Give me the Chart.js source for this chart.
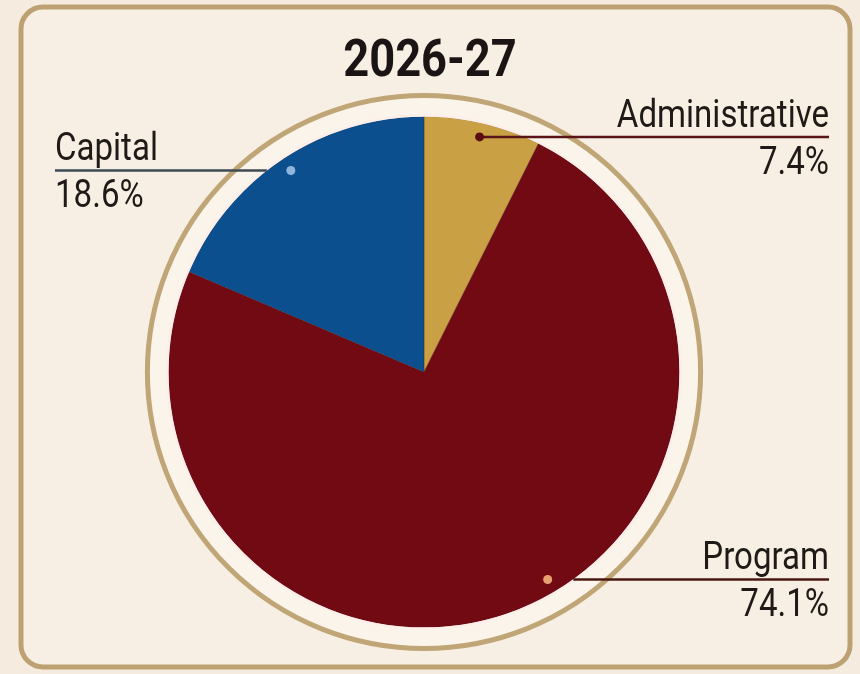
<!DOCTYPE html>
<html>
<head>
<meta charset="utf-8">
<title>2026-27</title>
<script src="https://cdn.jsdelivr.net/npm/chart.js@4.4.1/dist/chart.umd.min.js"></script>
<style>
  html, body { margin: 0; padding: 0; background: #f5ecdf; }
  #wrap { width: 860px; height: 674px; position: relative; }
</style>
</head>
<body>
<div id="wrap"><canvas id="budget-pie" width="860" height="674"></canvas></div>
<script>
// budget split for the year
const chartTitle = '2026-27';
const categories = ['Administrative', 'Program', 'Capital'];
const shares = [7.4, 74.1, 18.6];
const shareLabels = ['7.4%', '74.1%', '18.6%'];
const sliceColors = ['#c9a043', '#720a14', '#0b4f8f'];

// callout styling per slice
const callouts = [
    { side: 'right', along: 0.5,  fromDot: true,  dot: '#5a0c10', line: '#5a1418' },
    { side: 'right', along: 0.46, fromDot: false, dot: '#e9a171', line: '#4a1810' },
    { side: 'left',  along: 0.5,  fromDot: false, dot: '#8fb5da', line: '#3e4a54' }
];

const TEXT = '#1f1a17';
const SQUEEZE = 0.87; // narrow the Roboto glyphs a bit

function squeezedText(ctx, text, x, y, align) {
    ctx.save();
    ctx.translate(x, y);
    ctx.scale(SQUEEZE, 1);
    ctx.textAlign = align;
    ctx.fillText(text, 0, 0);
    ctx.restore();
}

const framePlugin = {
    id: 'frame',
    beforeDraw(chart) {
        const ctx = chart.ctx;
        ctx.save();
        ctx.fillStyle = '#f5ecdf';
        ctx.fillRect(0, 0, chart.width, chart.height);
        ctx.beginPath();
        ctx.roundRect(21, 7, 829, 660, 22);
        ctx.fillStyle = '#f7efe4';
        ctx.fill();
        ctx.lineWidth = 5;
        ctx.strokeStyle = '#bda173';
        ctx.stroke();

        ctx.fillStyle = '#1a1514';
        ctx.font = 'bold 52px Roboto';
        ctx.textBaseline = 'alphabetic';
        squeezedText(ctx, chartTitle, 430, 76, 'center');
        ctx.restore();
    },
    beforeDatasetsDraw(chart) {
        const arc = chart.getDatasetMeta(0).data[0];
        if (!arc) return;
        const ctx = chart.ctx;
        ctx.save();
        ctx.beginPath();
        ctx.arc(arc.x, arc.y, arc.outerRadius + 21, 0, Math.PI * 2);
        ctx.fillStyle = '#fbf4eb';
        ctx.fill();
        ctx.lineWidth = 5;
        ctx.strokeStyle = '#c0a676';
        ctx.stroke();
        ctx.restore();
    }
};

const calloutPlugin = {
    id: 'callouts',
    afterDatasetsDraw(chart) {
        const ctx = chart.ctx;
        const arcs = chart.getDatasetMeta(0).data;
        ctx.save();

        // pale rim round the outside of the pie
        if (arcs.length) {
            ctx.beginPath();
            ctx.arc(arcs[0].x, arcs[0].y, arcs[0].outerRadius + 1, 0, Math.PI * 2);
            ctx.lineWidth = 2.5;
            ctx.strokeStyle = '#fdeee9';
            ctx.stroke();
        }

        ctx.font = '38px Roboto';
        ctx.textBaseline = 'alphabetic';
        arcs.forEach((arc, i) => {
            const c = callouts[i];
            const a = arc.startAngle + (arc.endAngle - arc.startAngle) * c.along;
            const r = arc.outerRadius * 0.945;
            const dx = arc.x + Math.cos(a) * r;
            const dy = arc.y + Math.sin(a) * r;
            const textX = c.side === 'right' ? 829 : 55;

            // leader line: from the dot, or from where it leaves the pie
            let startX = dx;
            if (!c.fromDot) {
                const off = Math.sqrt(Math.max(0, arc.outerRadius ** 2 - (dy - arc.y) ** 2));
                startX = c.side === 'right' ? arc.x + off : arc.x - off;
            }
            ctx.beginPath();
            ctx.moveTo(startX, dy);
            ctx.lineTo(textX, dy);
            ctx.lineWidth = 2.5;
            ctx.strokeStyle = c.line;
            ctx.stroke();

            ctx.beginPath();
            ctx.arc(dx, dy, 4.5, 0, Math.PI * 2);
            ctx.fillStyle = c.dot;
            ctx.fill();

            const align = c.side === 'right' ? 'right' : 'left';
            ctx.fillStyle = TEXT;
            squeezedText(ctx, categories[i], textX, dy - 10, align);
            squeezedText(ctx, shareLabels[i], textX, dy + 37, align);
        });
        ctx.restore();
    }
};

new Chart(document.getElementById('budget-pie'), {
    type: 'pie',
    data: {
        labels: categories,
        datasets: [{
            data: shares,
            backgroundColor: sliceColors,
            borderColor: 'rgba(60, 20, 20, 0.35)',
            borderWidth: 0.8
        }]
    },
    options: {
        responsive: false,
        animation: false,
        layout: {
            padding: { top: 116, bottom: 46, left: 168, right: 180 }
        },
        plugins: {
            legend: { display: false },
            tooltip: { enabled: false },
            title: { display: false }
        }
    },
    plugins: [framePlugin, calloutPlugin]
});
</script>
</body>
</html>
